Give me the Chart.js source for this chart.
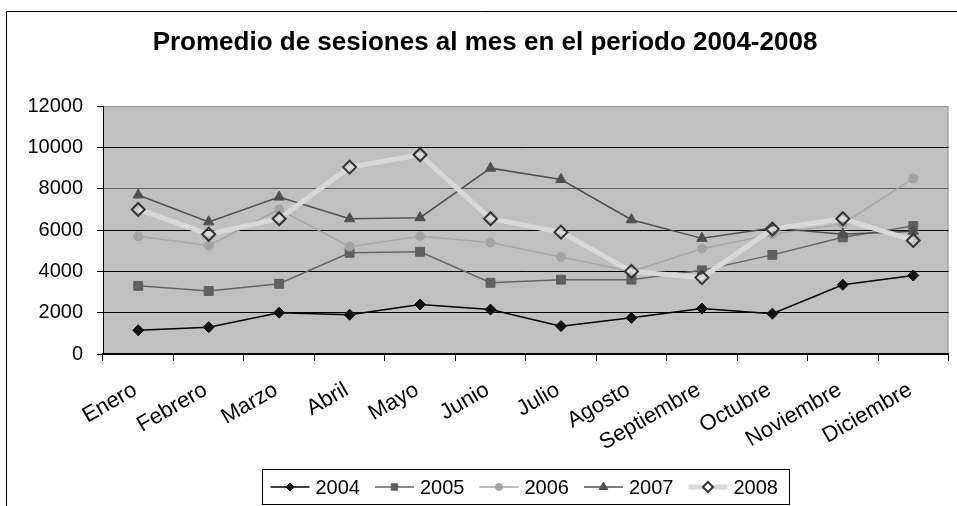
<!DOCTYPE html>
<html><head><meta charset="utf-8">
<script src="https://cdn.jsdelivr.net/npm/chart.js@4.4.0/dist/chart.umd.min.js"></script>
<style>html,body{margin:0;padding:0;background:#fff}#wrap{width:957px;height:506px;position:relative}canvas{display:block}</style>
</head><body><div id="wrap"><canvas id="c" width="957" height="506"></canvas></div>
<script>
const categories = ['Enero','Febrero','Marzo','Abril','Mayo','Junio','Julio','Agosto','Septiembre','Octubre','Noviembre','Diciembre'];
const years = ['2004','2005','2006','2007','2008'];
const s2004 = [1150,1300,2000,1900,2400,2150,1350,1750,2200,1950,3350,3800];
const s2005 = [3300,3050,3400,4900,4950,3450,3600,3600,4050,4800,5650,6200];
const s2006 = [5700,5250,7000,5200,5700,5400,4700,4000,5100,5800,6300,8500];
const s2007 = [7700,6400,7600,6550,6600,9000,8450,6500,5600,6100,5800,5950];
const s2008 = [7000,5800,6550,9050,9650,6550,5900,4000,3700,6050,6550,5500];
const yTicks = [0,2000,4000,6000,8000,10000,12000];
const titleText = 'Promedio de sesiones al mes en el periodo 2004-2008';

const FONT = '"Liberation Sans", Arial, sans-serif';

const styles = [
  {line:'#000000', lw:1.5, style:'rectRot', r:5.5, fill:'#111111', stroke:'#111111', bw:1, lr:4},
  {line:'#666666', lw:1.5, style:'rect', r:6.3, fill:'#606060', stroke:'#606060', bw:1, lr:4.5},
  {line:'#a6a6a6', lw:1.5, style:'circle', r:4.5, fill:'#a3a3a3', stroke:'#a3a3a3', bw:1, lr:3.5},
  {line:'#505050', lw:1.5, style:'triangle', r:6, fill:'#505050', stroke:'#505050', bw:1, lr:5},
  {line:'#d9d9d9', lw:5, style:'rectRot', r:6.5, fill:'rgba(0,0,0,0)', stroke:'#333333', bw:2, lr:5}
];
const seriesData = [s2004, s2005, s2006, s2007, s2008];

const datasets = years.map((y,i)=>({
  label: y,
  data: seriesData[i],
  borderColor: styles[i].line,
  borderWidth: styles[i].lw,
  pointStyle: styles[i].style,
  pointRadius: styles[i].r,
  pointBackgroundColor: styles[i].fill,
  pointBorderColor: styles[i].stroke,
  pointBorderWidth: styles[i].bw,
  tension: 0,
  fill: false,
  order: years.length - i
}));

function marker(ctx, style, x, y, r){
  ctx.beginPath();
  if(style==='rectRot'){
    ctx.moveTo(x, y-r); ctx.lineTo(x+r, y); ctx.lineTo(x, y+r); ctx.lineTo(x-r, y); ctx.closePath();
  } else if(style==='rect'){
    const s = Math.SQRT1_2*r; ctx.rect(x-s, y-s, 2*s, 2*s);
  } else if(style==='circle'){
    ctx.arc(x, y, r, 0, Math.PI*2);
  } else if(style==='triangle'){
    ctx.moveTo(x, y-r);
    ctx.lineTo(x + Math.sin(Math.PI*2/3)*r, y + r/2);
    ctx.lineTo(x - Math.sin(Math.PI*2/3)*r, y + r/2);
    ctx.closePath();
  }
  ctx.fill(); ctx.stroke();
}

const bgPlugin = {
  id:'plotBg',
  beforeDraw(chart){
    const a = chart.chartArea, ctx = chart.ctx;
    ctx.save();
    ctx.fillStyle='#ffffff'; ctx.fillRect(0,0,chart.width,chart.height);
    ctx.fillStyle='#c0c0c0'; ctx.fillRect(a.left, a.top, a.right-a.left, a.bottom-a.top);
    ctx.strokeStyle='#9a9a9a'; ctx.lineWidth=1;
    ctx.beginPath(); ctx.moveTo(a.left, a.top+0.5); ctx.lineTo(a.right-0.5, a.top+0.5); ctx.lineTo(a.right-0.5, a.bottom); ctx.stroke();
    ctx.restore();
  },
  afterDraw(chart){
    const ctx = chart.ctx;
    ctx.save();
    ctx.strokeStyle='#000'; ctx.lineWidth=1;
    ctx.beginPath(); ctx.moveTo(6.5, chart.height); ctx.lineTo(6.5, 11.5); ctx.lineTo(chart.width, 11.5); ctx.stroke();
    // legend
    ctx.font = '20px ' + FONT;
    const lineW=39, gapT=6, gapI=15;
    const items = chart.data.datasets.map((ds,i)=>({ds, st:styles[i], w:ctx.measureText(ds.label).width}));
    const content = items.reduce((s,it)=>s+lineW+gapT+it.w,0) + gapI*(items.length-1);
    const a = chart.chartArea;
    const cx = (a.left+a.right)/2;
    const boxW = Math.round(content + 20);
    const bx = Math.round(cx - boxW/2) + 0.5, by = 469.5, bh = 35;
    ctx.fillStyle='#fff'; ctx.fillRect(bx, by, boxW, bh);
    ctx.strokeStyle='#000'; ctx.lineWidth=1; ctx.strokeRect(bx, by, boxW, bh);
    let x = bx + 8;
    const yy = by + bh/2;
    items.forEach(it=>{
      ctx.strokeStyle = it.st.line; ctx.lineWidth = it.st.lw;
      ctx.beginPath(); ctx.moveTo(x, yy); ctx.lineTo(x+lineW, yy); ctx.stroke();
      ctx.fillStyle = it.st.fill==='rgba(0,0,0,0)' ? '#ffffff' : it.st.fill;
      ctx.strokeStyle = it.st.stroke; ctx.lineWidth = it.st.bw;
      marker(ctx, it.st.style, x+lineW/2, yy, it.st.lr);
      ctx.fillStyle='#000'; ctx.textBaseline='middle'; ctx.textAlign='left';
      ctx.fillText(it.ds.label, x+lineW+gapT, yy+1);
      x += lineW + gapT + it.w + gapI;
    });
    ctx.restore();
  }
};

new Chart(document.getElementById('c').getContext('2d'), {
  type:'line',
  data:{labels:categories, datasets},
  options:{
    responsive:false, animation:false,
    layout:{padding:{left:14, right:1, top:0, bottom:0}},
    plugins:{
      legend:{display:false},
      tooltip:{enabled:false},
      title:{display:true, text:titleText, color:'#000', font:{family:FONT, size:26, weight:'bold', lineHeight:1.2}, padding:{top:27, bottom:48}}
    },
    scales:{
      x:{
        offset:true,
        grid:{offset:true, drawOnChartArea:false, tickLength:7, color:'#000', lineWidth:1},
        border:{color:'#000', width:2},
        ticks:{minRotation:30, maxRotation:30, autoSkip:false, color:'#000', font:{family:FONT, size:22}, padding:16, labelOffset:-3},
        afterFit(s){ s.height = 152; }
      },
      y:{
        min:0, max:12000,
        afterBuildTicks(s){ s.ticks = yTicks.map(v=>({value:v})); },
        ticks:{color:'#000', font:{family:FONT, size:20}, padding:14, callback:(v)=>String(v)},
        grid:{tickLength:6, tickColor:'#000', lineWidth:1,
          color:(c)=>{ const v = c.tick ? c.tick.value : null; if(v===12000) return '#9a9a9a'; if(v===8000) return '#606060'; return '#000'; }},
        border:{color:'#000', width:1},
        afterFit(s){ s.width = 89; }
      }
    }
  },
  plugins:[bgPlugin]
});
</script>
</body></html>
